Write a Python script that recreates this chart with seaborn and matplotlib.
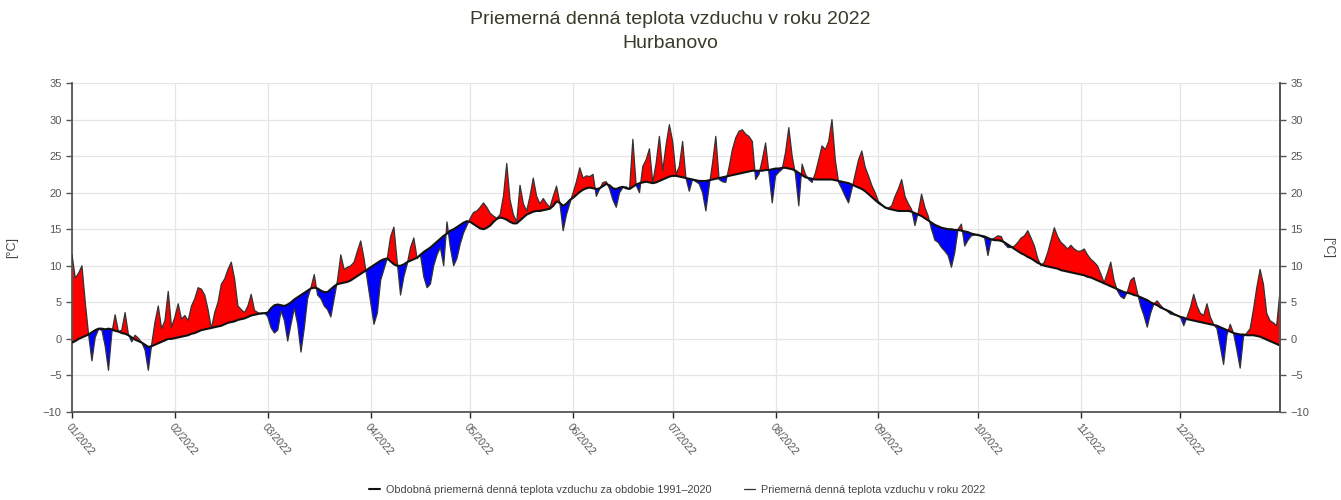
import numpy as np
import pandas as pd
import matplotlib
matplotlib.use("Agg")
import matplotlib.pyplot as plt
import seaborn as sns

# ---------------- data ----------------
title_line1 = "Priemerná denná teplota vzduchu v roku 2022"
title_line2 = "Hurbanovo"
label_normal = "Obdobná priemerná denná teplota vzduchu za obdobie 1991–2020"
label_2022 = "Priemerná denná teplota vzduchu v roku 2022"
month_labels = ["01/2022", "02/2022", "03/2022", "04/2022", "05/2022", "06/2022",
                "07/2022", "08/2022", "09/2022", "10/2022", "11/2022", "12/2022"]
y_ticks = [-10, -5, 0, 5, 10, 15, 20, 25, 30, 35]

# daily normal 1991-2020 (°C)
normal_jan = [-0.5, -0.3, 0.0, 0.2, 0.4, 0.6, 0.9, 1.2, 1.4, 1.4, 1.3, 1.4, 1.3, 1.1, 1.0, 0.8,
              0.7, 0.5, 0.2, -0.1, -0.3, -0.5, -0.8, -1.1, -1.0, -0.8, -0.6, -0.4, -0.2, 0.0, 0.0]
normal_feb = [0.1, 0.2, 0.3, 0.4, 0.5, 0.7, 0.8, 1.0, 1.2, 1.3, 1.4, 1.5, 1.6, 1.7, 1.8, 2.0,
              2.2, 2.3, 2.4, 2.6, 2.7, 2.8, 3.0, 3.2, 3.3, 3.4, 3.5, 3.5]
normal_mar = [3.6, 4.2, 4.6, 4.7, 4.6, 4.5, 4.7, 5.0, 5.4, 5.7, 6.0, 6.3, 6.6, 6.9, 7.0, 6.9,
              6.6, 6.4, 6.4, 6.8, 7.2, 7.5, 7.6, 7.7, 7.8, 8.0, 8.3, 8.6, 8.9, 9.2, 9.5]
normal_apr = [9.8, 10.1, 10.4, 10.7, 10.9, 11.0, 10.6, 10.2, 10.0, 10.0, 10.2, 10.5, 10.7, 10.9,
              11.1, 11.5, 11.9, 12.2, 12.5, 12.9, 13.3, 13.7, 14.1, 14.4, 14.8, 15.0, 15.3, 15.6,
              15.9, 16.1]
normal_may = [16.0, 15.7, 15.4, 15.1, 15.0, 15.2, 15.5, 16.0, 16.4, 16.6, 16.5, 16.3, 16.0, 15.8,
              15.8, 16.2, 16.6, 17.0, 17.2, 17.4, 17.5, 17.5, 17.6, 17.7, 17.8, 18.2, 18.8, 18.6,
              18.2, 18.5, 19.0]
normal_jun = [19.3, 19.7, 20.1, 20.4, 20.6, 20.7, 20.6, 20.5, 20.6, 20.9, 21.2, 21.0, 20.6, 20.5,
              20.7, 20.8, 20.6, 20.5, 20.8, 21.1, 21.3, 21.4, 21.5, 21.4, 21.3, 21.4, 21.6, 21.8,
              22.0, 22.2]
normal_jul = [22.3, 22.3, 22.2, 22.1, 22.0, 21.9, 21.8, 21.7, 21.6, 21.6, 21.6, 21.7, 21.8, 21.9,
              22.0, 22.1, 22.2, 22.3, 22.4, 22.5, 22.6, 22.7, 22.8, 22.9, 23.0, 23.0, 23.0, 23.0,
              23.1, 23.1, 23.2]
normal_aug = [23.3, 23.3, 23.4, 23.4, 23.3, 23.2, 23.0, 22.7, 22.4, 22.1, 22.0, 21.9, 21.8, 21.8,
              21.8, 21.8, 21.8, 21.8, 21.7, 21.6, 21.5, 21.4, 21.3, 21.1, 20.9, 20.7, 20.5, 20.2,
              19.8, 19.4, 19.0]
normal_sep = [18.6, 18.3, 18.0, 17.8, 17.7, 17.6, 17.5, 17.5, 17.5, 17.5, 17.4, 17.2, 17.0, 16.8,
              16.5, 16.2, 15.9, 15.6, 15.4, 15.2, 15.1, 15.0, 15.0, 14.9, 14.9, 14.8, 14.7, 14.6,
              14.4, 14.3]
normal_oct = [14.2, 14.1, 14.0, 13.8, 13.6, 13.5, 13.5, 13.4, 13.2, 12.9, 12.6, 12.3, 12.0, 11.7,
              11.5, 11.2, 11.0, 10.7, 10.4, 10.2, 10.0, 9.9, 9.8, 9.7, 9.6, 9.4, 9.3, 9.2, 9.1,
              9.0, 8.9]
normal_nov = [8.8, 8.7, 8.5, 8.4, 8.2, 8.0, 7.8, 7.6, 7.4, 7.2, 7.0, 6.8, 6.6, 6.4, 6.3, 6.2,
              6.0, 5.9, 5.7, 5.5, 5.3, 5.0, 4.8, 4.6, 4.3, 4.1, 3.9, 3.7, 3.4, 3.2]
normal_dec = [3.0, 2.9, 2.7, 2.6, 2.5, 2.4, 2.3, 2.2, 2.1, 2.0, 1.9, 1.8, 1.6, 1.4, 1.2, 1.0,
              0.8, 0.7, 0.6, 0.6, 0.5, 0.5, 0.5, 0.4, 0.3, 0.1, -0.1, -0.3, -0.5, -0.7, -0.9]

# daily mean 2022 (°C)
t_jan = [11.5, 8.3, 9.0, 10.0, 5.0, 0.6, -3.0, 0.2, 1.3, 1.2, -1.0, -4.3, 0.8, 3.3, 1.0, 1.2,
         3.6, 0.6, -0.4, 0.5, 0.1, -0.5, -1.5, -4.3, -0.8, 2.3, 4.5, 1.4, 2.5, 6.5, 1.6]
t_feb = [3.0, 4.8, 2.7, 3.2, 2.5, 4.5, 5.5, 7.0, 6.8, 6.0, 4.0, 1.4, 3.6, 5.0, 7.5, 8.2,
         9.5, 10.5, 8.2, 4.5, 4.0, 3.6, 4.5, 6.1, 3.9, 3.6, 3.4, 3.6]
t_mar = [3.0, 1.5, 0.8, 1.2, 3.8, 2.5, -0.3, 2.0, 4.2, 2.0, -1.8, 1.5, 5.5, 7.0, 8.8, 6.0,
         5.5, 4.5, 4.0, 3.0, 5.5, 8.0, 11.5, 9.5, 9.8, 10.0, 10.5, 12.0, 13.4, 11.0, 8.0]
t_apr = [5.0, 2.0, 3.5, 8.0, 9.5, 11.0, 14.0, 15.3, 10.5, 6.0, 8.5, 10.2, 12.5, 13.8, 11.0,
         11.5, 8.5, 7.0, 7.5, 10.0, 11.5, 12.5, 10.0, 16.0, 12.5, 10.0, 11.0, 13.0, 14.5, 15.5]
t_may = [16.5, 17.3, 17.5, 18.0, 18.6, 18.0, 17.2, 16.8, 16.5, 17.0, 19.5, 24.0, 19.0, 17.0,
         16.0, 21.0, 18.5, 17.5, 19.5, 22.0, 19.5, 18.5, 19.2, 18.5, 18.0, 19.5, 20.9, 18.6,
         14.8, 17.0, 18.5]
t_jun = [20.0, 21.5, 23.4, 22.0, 22.3, 22.2, 22.5, 19.5, 20.5, 21.4, 21.5, 20.5, 19.0, 18.0,
         20.0, 20.7, 20.8, 20.5, 27.3, 21.0, 20.0, 23.6, 24.5, 26.0, 21.4, 24.0, 27.7, 23.0,
         26.5, 29.3]
t_jul = [27.0, 22.5, 23.6, 27.0, 22.0, 20.2, 21.8, 21.5, 21.2, 20.0, 17.5, 20.9, 24.0, 27.7,
         21.8, 21.5, 21.4, 23.5, 25.9, 27.5, 28.4, 28.6, 28.0, 27.7, 27.0, 21.8, 22.5, 24.5,
         26.8, 22.7, 18.6]
t_aug = [22.3, 22.8, 23.2, 25.5, 28.9, 25.0, 22.5, 18.2, 23.9, 22.5, 21.8, 21.4, 22.7, 24.5,
         26.4, 25.9, 27.0, 30.0, 24.5, 21.4, 20.5, 19.5, 18.6, 20.5, 22.5, 24.5, 25.7, 23.5,
         22.3, 21.0, 20.0]
t_sep = [18.8, 18.4, 17.9, 17.9, 18.2, 19.5, 20.5, 21.8, 19.5, 18.5, 17.7, 15.5, 17.3, 19.8,
         18.0, 16.8, 15.0, 13.5, 13.2, 12.5, 12.0, 11.4, 9.8, 11.8, 15.0, 15.7, 12.7, 13.5,
         14.1, 14.2]
t_oct = [14.3, 14.0, 13.8, 11.4, 13.6, 13.8, 14.1, 14.0, 13.0, 12.5, 12.5, 12.7, 13.2, 13.8,
         14.1, 14.8, 13.8, 12.7, 11.0, 10.0, 10.5, 11.8, 13.5, 15.2, 14.0, 13.2, 12.8, 12.3,
         12.8, 12.3, 12.0]
t_nov = [12.0, 12.3, 11.5, 10.9, 10.5, 10.0, 8.9, 7.7, 9.0, 10.5, 8.0, 6.6, 5.8, 5.5, 6.4,
         8.0, 8.4, 6.4, 4.5, 3.2, 1.6, 3.5, 4.8, 5.2, 4.6, 4.1, 3.8, 3.4, 3.3, 3.2]
t_dec = [3.0, 1.8, 3.0, 4.3, 6.1, 4.5, 3.5, 3.2, 4.8, 3.0, 2.0, 1.4, -1.0, -3.5, 0.5, 2.0,
         0.8, -1.5, -4.0, 0.3, 0.8, 1.4, 4.0, 7.0, 9.5, 7.5, 3.5, 2.5, 2.2, 1.8, 6.5]

normal = (normal_jan + normal_feb + normal_mar + normal_apr + normal_may + normal_jun +
          normal_jul + normal_aug + normal_sep + normal_oct + normal_nov + normal_dec)
t2022 = (t_jan + t_feb + t_mar + t_apr + t_may + t_jun + t_jul + t_aug + t_sep + t_oct +
         t_nov + t_dec)

dates = pd.date_range("2022-01-01", "2022-12-31", freq="D")
df = pd.DataFrame({"date": dates, "normal": normal, "t2022": t2022})
month_starts = pd.date_range("2022-01-01", periods=12, freq="MS")

# ---------------- style ----------------
sns.set_style("white")
plt.rcParams["font.family"] = ["Liberation Sans", "DejaVu Sans"]

W, H = 1341, 500
fig = plt.figure(figsize=(W / 100, H / 100), dpi=100)
ax = fig.add_axes([72 / W, 1 - 412 / H, (1280 - 72) / W, (412 - 83) / H])

above = df["t2022"] >= df["normal"]
ax.fill_between(df["date"], df["normal"], df["t2022"], where=above, interpolate=True,
                color="#ff0000", lw=0, zorder=2)
ax.fill_between(df["date"], df["normal"], df["t2022"], where=~above, interpolate=True,
                color="#0000ff", lw=0, zorder=2)

sns.lineplot(data=df, x="date", y="normal", ax=ax, color="#111111", lw=1.5,
             label=label_normal, zorder=4)
sns.lineplot(data=df, x="date", y="t2022", ax=ax, color="#333333", lw=0.9,
             label=label_2022, zorder=3)

ax.set_xlim(dates[0], dates[-1])
ax.set_ylim(-10, 35)
ax.set_yticks(y_ticks)
ax.set_xticks(month_starts)
ax.set_xticklabels(month_labels, rotation=-50, ha="left", va="top",
                   rotation_mode="anchor", fontsize=7.5, color="#555555")
ax.tick_params(axis="y", labelsize=8, colors="#555555", length=4, width=1, direction="out",
               left=True)
ax.tick_params(axis="x", length=4, width=1, direction="out", bottom=True, pad=3)
ax.grid(True, color="#e5e5e5", lw=0.9, zorder=0)
ax.set_axisbelow(True)
ax.set_xlabel("")
ax.set_ylabel("[°C]", fontsize=9, color="#444444", labelpad=18)

for side in ["left", "bottom", "right"]:
    ax.spines[side].set_color("#555555")
    ax.spines[side].set_linewidth(1.3)
ax.spines["top"].set_visible(False)

ax2 = ax.twinx()
ax2.set_ylim(-10, 35)
ax2.set_yticks(y_ticks)
ax2.tick_params(axis="y", labelsize=8, colors="#555555", length=4, width=1, direction="out")
ax2.set_ylabel("[°C]", fontsize=9, color="#444444", rotation=-90, labelpad=18)
for side in ["top", "left", "bottom"]:
    ax2.spines[side].set_visible(False)
ax2.spines["right"].set_color("#555555")
ax2.spines["right"].set_linewidth(1.3)

handles, labels = ax.get_legend_handles_labels()
ax.legend_.remove()
fig.legend(handles, labels, loc="center", bbox_to_anchor=(0.505, 1 - 490 / H), ncol=2,
           frameon=False, fontsize=7.8, handlelength=1.0, columnspacing=3.0,
           handletextpad=0.6, labelcolor="#444444")

fig.text(0.5, 1 - 20 / H, title_line1, ha="center", va="center", fontsize=14,
         color="#3a3a2a")
fig.text(0.5, 1 - 43 / H, title_line2, ha="center", va="center", fontsize=14,
         color="#3a3a2a")

fig.savefig("out.png", dpi=100)
